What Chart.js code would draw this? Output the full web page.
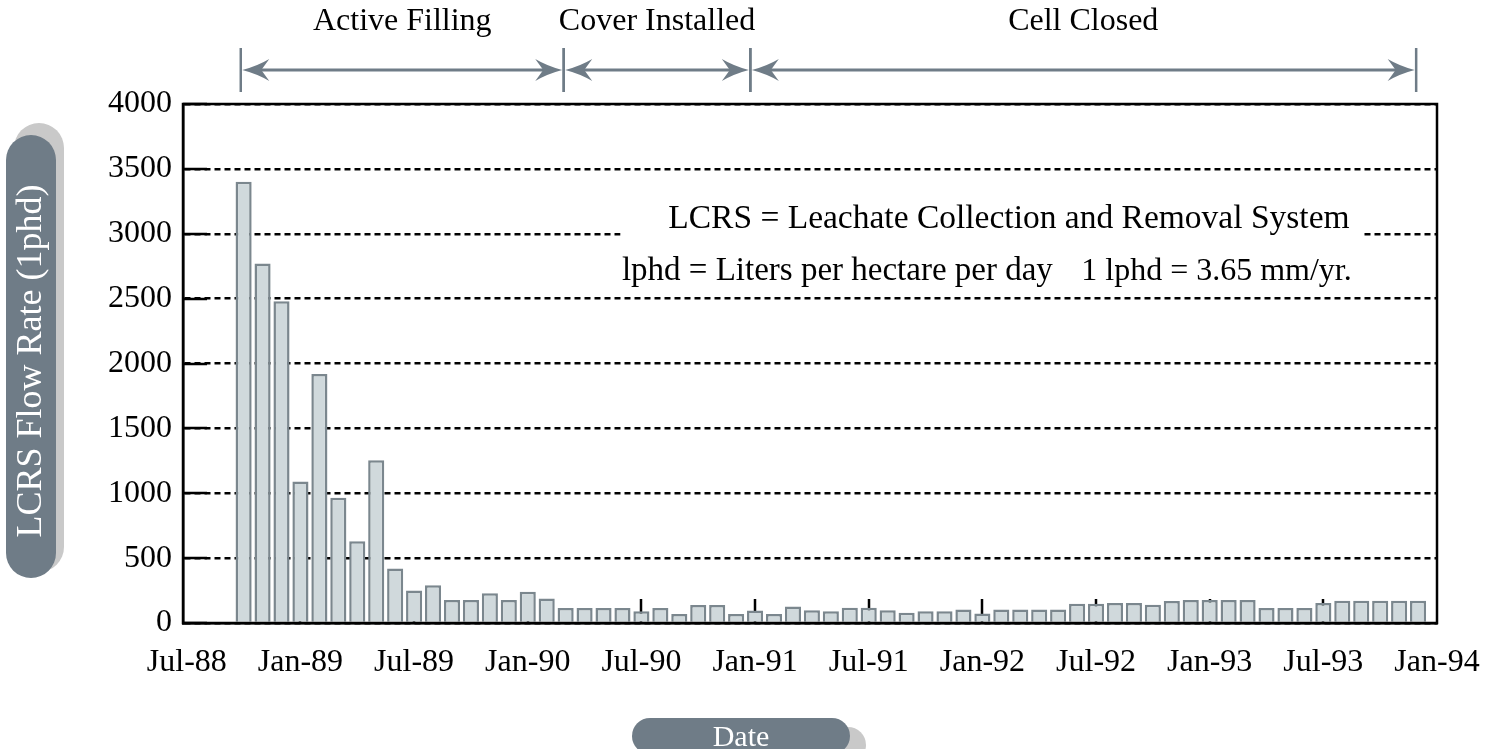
<!DOCTYPE html>
<html>
<head>
<meta charset="utf-8">
<script src="https://cdn.jsdelivr.net/npm/chart.js@4.4.0/dist/chart.umd.min.js"></script>
<style>
  html, body { margin: 0; padding: 0; background: #fff; }
  canvas { display: block; }
</style>
</head>
<body>
<canvas id="flowChart" width="1486" height="749"></canvas>
<script>
// month index counted from Jul-88 (= 0)
const tickLabels = ['Jul-88', 'Jan-89', 'Jul-89', 'Jan-90', 'Jul-90', 'Jan-91',
  'Jul-91', 'Jan-92', 'Jul-92', 'Jan-93', 'Jul-93', 'Jan-94'];

const barMonths = [
  'Oct-88', 'Nov-88', 'Dec-88',
  'Jan-89', 'Feb-89', 'Mar-89', 'Apr-89', 'May-89', 'Jun-89', 'Jul-89', 'Aug-89', 'Sep-89', 'Oct-89', 'Nov-89', 'Dec-89',
  'Jan-90', 'Feb-90', 'Mar-90', 'Apr-90', 'May-90', 'Jun-90', 'Jul-90', 'Aug-90', 'Sep-90', 'Oct-90', 'Nov-90', 'Dec-90',
  'Jan-91', 'Feb-91', 'Mar-91', 'Apr-91', 'May-91', 'Jun-91', 'Jul-91', 'Aug-91', 'Sep-91', 'Oct-91', 'Nov-91', 'Dec-91',
  'Jan-92', 'Feb-92', 'Mar-92', 'Apr-92', 'May-92', 'Jun-92', 'Jul-92', 'Aug-92', 'Sep-92', 'Oct-92', 'Nov-92', 'Dec-92',
  'Jan-93', 'Feb-93', 'Mar-93', 'Apr-93', 'May-93', 'Jun-93', 'Jul-93', 'Aug-93', 'Sep-93', 'Oct-93', 'Nov-93', 'Dec-93'
];

// LCRS flow rate, lphd
const flowRate = [
  3400, 2770, 2480,
  1090, 1920, 965, 630, 1255, 420, 250, 290, 178, 178, 230, 178,
  240, 189, 115, 115, 115, 115, 90, 115, 70, 138, 138, 70,
  96, 70, 127, 98, 90, 118, 118, 98, 79, 90, 90, 104,
  73, 104, 104, 104, 104, 149, 149, 155, 155, 141, 169, 178,
  178, 178, 178, 115, 115, 115, 155, 172, 172, 172, 172, 172
];
const firstBarMonth = 3; // Oct-88

const phases = [
  { label: 'Active Filling', from: 2.85, to: 19.9 },
  { label: 'Cover Installed', from: 19.9, to: 29.75 },
  { label: 'Cell Closed', from: 29.75, to: 64.9 }
];

// note text, placed in month / lphd units
const noteBox = { from: 22.9, to: 62.0 };
const noteLines = [
  { text: 'LCRS = Leachate Collection and Removal System', month: 43.4, value: 3110, align: 'center', size: 33.5 },
  { text: 'lphd = Liters per hectare per day', month: 22.97, value: 2710, align: 'left', size: 33 },
  { text: '1 lphd = 3.65 mm/yr.', month: 61.5, value: 2710, align: 'right', size: 32 }
];

const SERIF = "'Liberation Serif', 'Times New Roman', serif";
const PILL = '#6f7c87';
const SHADOW = '#c9c9c9';

function pill(ctx, x, y, w, h, color) {
  const r = Math.min(w, h) / 2;
  ctx.beginPath();
  ctx.moveTo(x + r, y);
  ctx.lineTo(x + w - r, y);
  ctx.arc(x + w - r, y + r, r, -Math.PI / 2, 0);
  ctx.lineTo(x + w, y + h - r);
  ctx.arc(x + w - r, y + h - r, r, 0, Math.PI / 2);
  ctx.lineTo(x + r, y + h);
  ctx.arc(x + r, y + h - r, r, Math.PI / 2, Math.PI);
  ctx.lineTo(x, y + r);
  ctx.arc(x + r, y + r, r, Math.PI, Math.PI * 1.5);
  ctx.closePath();
  ctx.fillStyle = color;
  ctx.fill();
}

function arrowHead(ctx, tipX, yc, dir) {
  const L = 27, H = 11, notch = 8;
  ctx.beginPath();
  ctx.moveTo(tipX, yc);
  ctx.quadraticCurveTo(tipX + dir * L * 0.55, yc - H * 0.35, tipX + dir * L, yc - H);
  ctx.lineTo(tipX + dir * (L - notch), yc);
  ctx.lineTo(tipX + dir * L, yc + H);
  ctx.quadraticCurveTo(tipX + dir * L * 0.55, yc + H * 0.35, tipX, yc);
  ctx.closePath();
  ctx.fill();
}

const decor = {
  id: 'decor',
  beforeDraw(chart) {
    const { ctx, width, height, scales: { x } } = chart;
    ctx.save();
    ctx.fillStyle = '#fff';
    ctx.fillRect(0, 0, width, height);

    // y axis title pill
    pill(ctx, 14, 123, 50, 449, SHADOW);
    pill(ctx, 6, 135, 50, 443, PILL);
    ctx.save();
    ctx.translate(31, 361);
    ctx.rotate(-Math.PI / 2);
    ctx.fillStyle = '#fff';
    ctx.font = '36px ' + SERIF;
    ctx.textAlign = 'center';
    ctx.textBaseline = 'middle';
    ctx.fillText('LCRS Flow Rate (1phd)', 0, 1);
    ctx.restore();

    // x axis title pill
    pill(ctx, 646, 727, 220, 36, SHADOW);
    pill(ctx, 632, 718, 218, 36, PILL);
    ctx.fillStyle = '#fff';
    ctx.font = '30px ' + SERIF;
    ctx.textAlign = 'center';
    ctx.textBaseline = 'middle';
    ctx.fillText('Date', 741, 738);

    // phase arrows
    const yc = 70;
    ctx.strokeStyle = PILL;
    ctx.fillStyle = PILL;
    phases.forEach(p => {
      const x0 = x.getPixelForValue(p.from);
      const x1 = x.getPixelForValue(p.to);
      ctx.lineWidth = 3;
      ctx.beginPath();
      ctx.moveTo(x0 + 10, yc);
      ctx.lineTo(x1 - 10, yc);
      ctx.stroke();
      arrowHead(ctx, x0 + 1.5, yc, 1);
      arrowHead(ctx, x1 - 1.5, yc, -1);
      ctx.lineWidth = 2.5;
      [x0, x1].forEach(xx => {
        ctx.beginPath();
        ctx.moveTo(xx, 48);
        ctx.lineTo(xx, 92);
        ctx.stroke();
      });
    });
    ctx.fillStyle = '#000';
    ctx.font = '32px ' + SERIF;
    ctx.textBaseline = 'middle';
    phases.forEach(p => {
      const cx = (x.getPixelForValue(p.from) + x.getPixelForValue(p.to)) / 2;
      ctx.fillText(p.label, cx, 22);
    });
    ctx.restore();
  },
  beforeDatasetsDraw(chart) {
    const { ctx, chartArea: a, scales: { x, y } } = chart;
    ctx.save();
    // note box hides the grid line behind it
    const top = y.getPixelForValue(noteLines[0].value) - 26;
    const bottom = y.getPixelForValue(noteLines[1].value) + 20;
    const left = x.getPixelForValue(noteBox.from);
    ctx.fillStyle = '#fff';
    ctx.fillRect(left, top, x.getPixelForValue(noteBox.to) - left, bottom - top);
    ctx.fillStyle = '#000';
    ctx.textBaseline = 'middle';
    noteLines.forEach(n => {
      ctx.font = n.size + 'px ' + SERIF;
      ctx.textAlign = n.align;
      ctx.fillText(n.text, x.getPixelForValue(n.month), y.getPixelForValue(n.value));
    });

    // inner tick marks
    ctx.strokeStyle = '#000';
    ctx.lineWidth = 2.5;
    y.ticks.forEach(t => {
      const py = Math.round(y.getPixelForValue(t.value));
      ctx.beginPath();
      ctx.moveTo(a.left, py);
      ctx.lineTo(a.left + 24, py);
      ctx.stroke();
    });
    x.ticks.slice(1, -1).forEach(t => {
      const px = Math.round(x.getPixelForValue(t.value));
      ctx.beginPath();
      ctx.moveTo(px, a.bottom);
      ctx.lineTo(px, a.bottom - 24);
      ctx.stroke();
    });
    ctx.restore();
  },
  afterDatasetsDraw(chart) {
    const { ctx, chartArea: a } = chart;
    ctx.save();
    ctx.strokeStyle = '#000';
    ctx.lineWidth = 2.5;
    ctx.strokeRect(a.left, a.top, a.right - a.left, a.bottom - a.top);
    ctx.restore();
  }
};

const tickFont = { family: SERIF, size: 32 };

new Chart(document.getElementById('flowChart'), {
  type: 'bar',
  data: {
    datasets: [{
      label: 'LCRS Flow Rate (lphd)',
      data: flowRate.map((v, i) => ({ x: firstBarMonth + i, y: v })),
      backgroundColor: '#d0d9dc',
      borderColor: '#7b878e',
      borderWidth: 2.5,
      categoryPercentage: 1,
      barPercentage: 0.85
    }]
  },
  options: {
    responsive: false,
    animation: false,
    devicePixelRatio: 1,
    layout: { padding: { top: 104, right: 49, left: 0, bottom: 0 } },
    plugins: {
      legend: { display: false },
      tooltip: {
        callbacks: { title: items => barMonths[items[0].dataIndex] }
      }
    },
    scales: {
      x: {
        type: 'linear',
        min: -0.2,
        max: 66,
        offset: false,
        afterBuildTicks: s => { s.ticks = tickLabels.map((l, i) => ({ value: i * 6 })); },
        afterFit: s => { s.height = 126; s.paddingLeft = 0; s.paddingRight = 0; },
        ticks: {
          callback: v => tickLabels[Math.round(v / 6)],
          font: tickFont,
          color: '#000',
          padding: 20,
          maxRotation: 0,
          autoSkip: false
        },
        grid: { display: false, drawTicks: false },
        border: { display: true, color: '#000', width: 2.5 }
      },
      y: {
        min: 0,
        max: 4000,
        afterFit: s => { s.width = 183; },
        ticks: { stepSize: 500, font: tickFont, color: '#000', padding: 11, callback: v => String(v) },
        grid: { color: '#000', lineWidth: 2.5, drawTicks: false },
        border: { display: true, color: '#000', width: 2.5, dash: [6, 4] }
      }
    }
  },
  plugins: [decor]
});
</script>
</body>
</html>
